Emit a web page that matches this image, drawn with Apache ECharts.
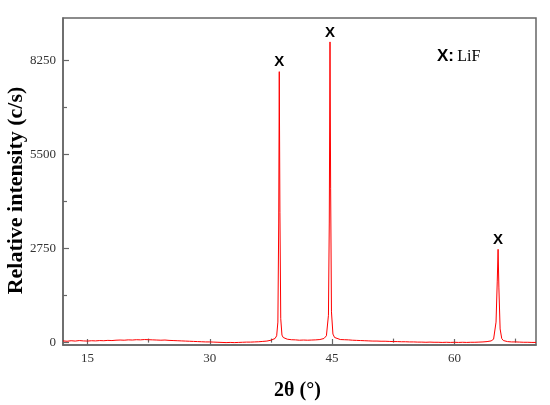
<!DOCTYPE html>
<html>
<head>
<meta charset="utf-8">
<script src="https://cdn.jsdelivr.net/npm/echarts@6/dist/echarts.min.js"></script>
<style>html,body{margin:0;padding:0;background:#fff}#c{width:550px;height:405px}</style>
</head>
<body>
<div id="c"></div>
<script>
// 2θ values (degrees)
const twoTheta = [
  12,12.5,13,13.5,14,14.5,15,15.5,16,16.5,17,17.5,18,18.5,19,19.5,20,20.5,21,21.5,22,22.5,23,23.5,24,24.5,25,25.5,26,26.5,27,27.5,28,28.5,29,29.5,30,30.5,31,31.5,32,32.5,33,33.5,34,34.5,35,35.5,36,36.5,37,37.5,
  38,38.2,38.35,38.45,38.52,38.6,38.7,38.85,39,39.5,40,40.5,41,41.5,42,42.5,43,43.5,44,44.3,44.55,44.65,44.74,44.82,44.92,45.1,45.3,45.5,
  46,46.5,47,47.5,48,48.5,49,49.5,50,50.5,51,51.5,52,52.5,53,53.5,54,54.5,55,55.5,56,56.5,57,57.5,58,58.5,59,59.5,60,60.5,61,61.5,62,62.5,63,63.5,64,64.5,64.8,65.1,65.25,65.35,65.45,65.6,65.8,66,66.5,67,67.5,68,68.5,69,69.5,70
];
// intensity (c/s)
const intensity = [
  50,40,55,45,60,50,45,55,50,60,55,65,60,70,75,70,80,75,85,80,90,85,80,75,70,75,65,60,55,50,45,40,35,30,25,20,20,15,10,5,0,5,0,5,10,15,15,20,25,35,45,70,
  120,200,600,3500,7930,3800,700,220,150,100,85,80,70,75,70,75,80,90,120,200,800,3500,8800,4500,900,250,150,110,
  90,85,80,70,65,60,55,50,45,45,40,40,35,30,30,25,25,20,20,15,15,10,15,10,10,5,10,5,10,5,10,5,10,10,15,20,30,50,100,600,1800,2730,1600,400,120,60,30,20,20,15,10,10,5,5
];
// peak markers
const peakX = [38.52, 44.74, 65.35];
const peakY = [7930, 8800, 2730];
const peakLabel = ['X', 'X', 'X'];
const xTicks = [15, 30, 45, 60];
const xMinor = [22.5, 37.5, 52.5, 67.5];
const yTicks = [0, 2750, 5500, 8250];
const yMinor = [1375, 4125, 6875];

const chart = echarts.init(document.getElementById('c'), null, {renderer: 'canvas'});
const axisCol = '#666';
const serif = 'Liberation Serif';
const yMin = -70, yMax = 9500, xMin = 12, xMax = 70;
const plain = v => String(v);

const option = {
  animation: false,
  backgroundColor: '#fff',
  grid: {left: 63, top: 18, right: 14, bottom: 60, outerBoundsMode: 'none', containLabel: false, show: true, borderColor: axisCol, borderWidth: 1.5, backgroundColor: 'transparent'},
  xAxis: [{
    type: 'value', min: xMin, max: xMax,
    name: '2θ (°)', nameLocation: 'middle', nameGap: 36, nameMoveOverlap: false,
    nameTextStyle: {fontFamily: serif, fontWeight: 'bold', fontSize: 20, color: '#000', padding: [0, 4, 0, 0]},
    axisLine: {show: true, onZero: false, lineStyle: {color: axisCol, width: 1.5}},
    axisTick: {show: true, inside: true, length: 6, customValues: xTicks, lineStyle: {color: axisCol, width: 1.2}},
    axisLabel: {customValues: xTicks, formatter: plain, fontFamily: serif, fontSize: 13, color: '#333', margin: 7},
    splitLine: {show: false}
  }, {
    type: 'value', min: xMin, max: xMax, position: 'bottom',
    axisLine: {show: false},
    axisTick: {show: true, inside: true, length: 4, customValues: xMinor, lineStyle: {color: axisCol, width: 1.2}},
    axisLabel: {show: false}, splitLine: {show: false}
  }],
  yAxis: [{
    type: 'value', min: yMin, max: yMax,
    name: 'Relative intensity (c/s)', nameLocation: 'middle', nameGap: 36, nameMoveOverlap: false,
    nameTextStyle: {fontFamily: serif, fontWeight: 'bold', fontSize: 22, color: '#000', padding: [0, 18, 0, 0]},
    axisLine: {show: true, onZero: false, lineStyle: {color: axisCol, width: 1.5}},
    axisTick: {show: true, inside: true, length: 6, customValues: yTicks, lineStyle: {color: axisCol, width: 1.2}},
    axisLabel: {customValues: yTicks, formatter: plain, fontFamily: serif, fontSize: 13, color: '#333', margin: 7},
    splitLine: {show: false}
  }, {
    type: 'value', min: yMin, max: yMax, position: 'left',
    axisLine: {show: false},
    axisTick: {show: true, inside: true, length: 4, customValues: yMinor, lineStyle: {color: axisCol, width: 1.2}},
    axisLabel: {show: false}, splitLine: {show: false}
  }],
  series: [{
    type: 'line',
    xAxisIndex: 0, yAxisIndex: 0,
    data: twoTheta.map((x, i) => [x, intensity[i]]),
    showSymbol: false, symbol: 'none',
    lineStyle: {color: '#ff0000', width: 1},
    markPoint: {
      symbol: 'circle', symbolSize: 0,
      label: {show: true, position: 'top', distance: 2, color: '#000', fontFamily: 'Liberation Sans', fontWeight: 'bold', fontSize: 15, formatter: p => p.name},
      data: peakX.map((x, i) => ({name: peakLabel[i], coord: [x, peakY[i]]}))
    }
  }],
  graphic: [{
    type: 'text', left: 437, top: 48,
    style: {
      text: '{a|X:} {b|LiF}',
      rich: {
        a: {fontFamily: 'Liberation Sans', fontWeight: 'bold', fontSize: 17, fill: '#000'},
        b: {fontFamily: serif, fontSize: 16, fill: '#000'}
      }
    }
  }]
};
chart.setOption(option);
</script>
</body>
</html>
